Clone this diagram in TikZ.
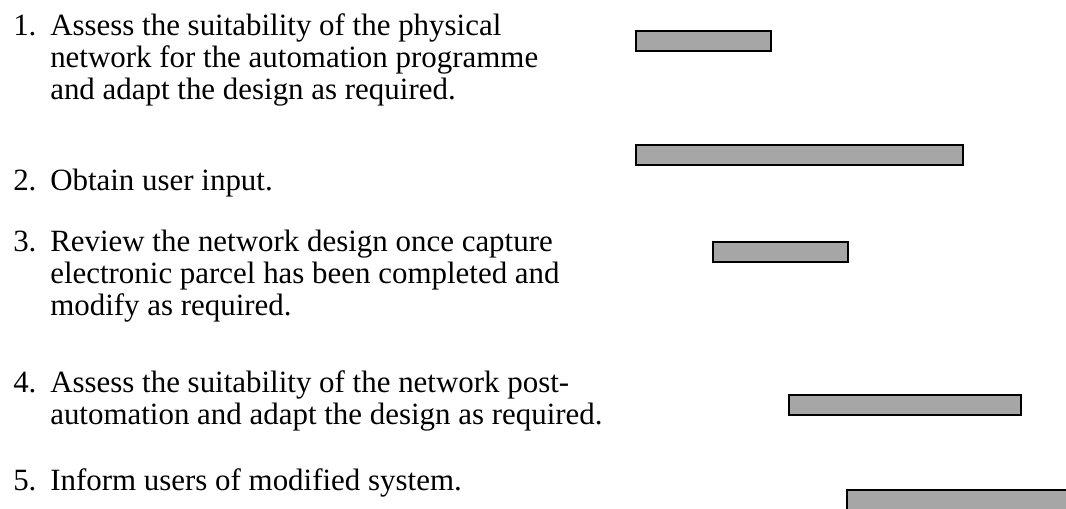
\documentclass[tikz,border=0pt]{standalone}
\usepackage{fontspec}
\setmainfont{Liberation Serif}
\usetikzlibrary{positioning}
\definecolor{barfill}{HTML}{A6A6A6}

\begin{document}
\begin{tikzpicture}[x=0.75pt,y=-0.75pt,
  bar/.style={rectangle,draw,line width=1.5pt,fill=barfill,anchor=north west,minimum height=15pt,inner sep=0pt},
  task/.style={anchor=base west,inner sep=0pt,font=\fontsize{23.2}{24}\selectfont}]
\useasboundingbox (0,0) rectangle (1066,508);

\node [task] (step1) at (13,35) {\begin{tabular}[t]{@{}p{27.75pt}@{}l@{}}1. & Assess the suitability of the physical \\ & network for the automation programme \\ & and adapt the design as required.\end{tabular}};
\node [task] (step2) at (13,190) {\begin{tabular}[t]{@{}p{27.75pt}@{}l@{}}2. & Obtain user input.\end{tabular}};
\node [task] (step3) at (13,251) {\begin{tabular}[t]{@{}p{27.75pt}@{}l@{}}3. & Review the network design once capture \\ & electronic parcel has been completed and \\ & modify as required.\end{tabular}};
\node [task] (step4) at (13,392) {\begin{tabular}[t]{@{}p{27.75pt}@{}l@{}}4. & Assess the suitability of the network post- \\ & automation and adapt the design as required.\end{tabular}};
\node [task] (step5) at (13,490) {\begin{tabular}[t]{@{}p{27.75pt}@{}l@{}}5. & Inform users of modified system.\end{tabular}};

\node [bar,minimum width=101.25pt] (bar1) at (635,30) {};
\node [bar,minimum width=245.25pt] (bar2) at (635,144) {};
\node [bar,minimum width=101.25pt] (bar3) at (712,241) {};
\node [bar,minimum width=174pt] (bar4) at (788,394) {};
\node [bar,minimum width=180pt] (bar5) at (846,489) {};
\end{tikzpicture}
\end{document}
